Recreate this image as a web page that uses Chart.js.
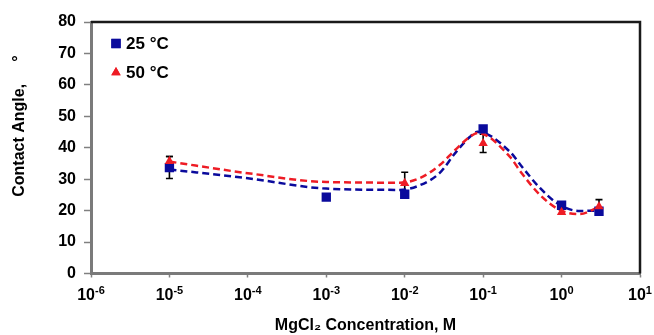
<!DOCTYPE html>
<html>
<head>
<meta charset="utf-8">
<script src="https://cdn.jsdelivr.net/npm/chart.js@4.4.1/dist/chart.umd.min.js"></script>
<style>
html, body { margin: 0; padding: 0; background: #fff; }
</style>
</head>
<body>
<canvas id="chart" width="654" height="335"></canvas>
<script>
// Measured points (MgCl2 concentration in M, contact angle in degrees)
const conc25 = [1e-5, 1e-3, 1e-2, 1e-1, 1, 3];
const angle25 = [33.7, 24.3, 25.2, 46.0, 21.7, 19.8];
const err25 = [3.5, 0, 0, 0, 0, 0];

const conc50 = [1e-5, 1e-2, 1e-1, 1, 3];
const angle50 = [35.7, 28.7, 41.4, 19.5, 21.3];
const err50 = [1.5, 3.5, 2.9, 0, 2.2];

// Dashed trend curves
const fitConc = [1e-5, 1e-4, 1e-3, 8.7e-3, 1.57e-2, 2.8e-2, 4.4e-2, 6.8e-2, 8.5e-2, 0.22, 0.3, 0.53, 0.95, 1.7, 3];
const fit25 = [33.1, 30.3, 27.0, 26.6, 28.1, 32.0, 38.3, 43.5, 45.1, 38.7, 34.5, 27.2, 21.8, 19.9, 20.0];
const fit50 = [35.6, 31.9, 29.1, 28.9, 30.4, 34.5, 39.3, 43.5, 44.7, 37.1, 32.4, 25.0, 20.2, 18.9, 21.2];

const seriesNames = ['25 °C', '50 °C'];
const xTickValues = [1e-6, 1e-5, 1e-4, 1e-3, 1e-2, 1e-1, 1, 10];

const BLUE = '#0a0a9c';
const RED = '#ee1c25';
const FONT = 'Liberation Sans, Arial, sans-serif';

const pts = (xs, ys) => xs.map((x, i) => ({x: x, y: ys[i]}));

// error bars, drawn under the markers
const errorBars = {
    id: 'errorBars',
    beforeDatasetsDraw(chart) {
        const ctx = chart.ctx, xs = chart.scales.x, ys = chart.scales.y;
        ctx.save();
        ctx.strokeStyle = '#000';
        ctx.lineWidth = 1.6;
        [[conc25, angle25, err25], [conc50, angle50, err50]].forEach(([cx, cy, ce]) => {
            cx.forEach((c, i) => {
                if (!ce[i]) return;
                const px = xs.getPixelForValue(c);
                const top = ys.getPixelForValue(cy[i] + ce[i]);
                const bot = ys.getPixelForValue(cy[i] - ce[i]);
                ctx.beginPath();
                ctx.moveTo(px, top); ctx.lineTo(px, bot);
                ctx.moveTo(px - 3.5, top); ctx.lineTo(px + 3.5, top);
                ctx.moveTo(px - 3.5, bot); ctx.lineTo(px + 3.5, bot);
                ctx.stroke();
            });
        });
        ctx.restore();
    }
};

// top/right frame, power-of-ten labels, legend and y title
const decor = {
    id: 'decor',
    afterDraw(chart) {
        const ctx = chart.ctx, a = chart.chartArea, xs = chart.scales.x;
        ctx.save();
        ctx.strokeStyle = '#1a1a1a';
        ctx.lineWidth = 2.5;
        ctx.beginPath();
        ctx.moveTo(a.left, a.top);
        ctx.lineTo(a.right, a.top);
        ctx.lineTo(a.right, a.bottom);
        ctx.stroke();

        // x tick labels 10^n
        ctx.fillStyle = '#000';
        ctx.textBaseline = 'alphabetic';
        ctx.textAlign = 'left';
        xs.ticks.forEach(t => {
            const px = xs.getPixelForValue(t.value);
            const exp = String(Math.round(Math.log10(t.value)));
            ctx.font = 'bold 16px ' + FONT;
            const wb = ctx.measureText('10').width;
            ctx.font = 'bold 11px ' + FONT;
            const we = ctx.measureText(exp).width;
            const x0 = px - (wb + we) / 2;
            ctx.font = 'bold 16px ' + FONT;
            ctx.fillText('10', x0, 300);
            ctx.font = 'bold 11px ' + FONT;
            ctx.fillText(exp, x0 + wb, 294);
        });

        // legend
        const sets = [chart.data.datasets[2], chart.data.datasets[3]];
        ctx.font = 'bold 17px ' + FONT;
        ctx.textBaseline = 'middle';
        sets.forEach((ds, i) => {
            const y = 43.5 + i * 29;
            ctx.fillStyle = ds.backgroundColor;
            Chart.helpers.drawPoint(ctx, {pointStyle: ds.pointStyle, radius: ds.pointRadius, rotation: 0, borderWidth: 0}, 116, y);
            ctx.fill();
            ctx.fillStyle = '#000';
            ctx.fillText(ds.label, 126, y + 1);
        });

        // y axis title
        ctx.translate(19.5, 126);
        ctx.rotate(-Math.PI / 2);
        ctx.font = 'bold 16px ' + FONT;
        ctx.textAlign = 'center';
        ctx.fillText('Contact Angle,     \u00B0', 0, 0);
        ctx.restore();
    }
};

new Chart(document.getElementById('chart'), {
    type: 'scatter',
    data: {
        datasets: [
            {label: 'fit25', data: pts(fitConc, fit25), showLine: true, borderColor: BLUE, borderWidth: 2.5,
             borderDash: [7, 4], pointRadius: 0, cubicInterpolationMode: 'monotone', order: 4},
            {label: 'fit50', data: pts(fitConc, fit50), showLine: true, borderColor: RED, borderWidth: 2.5,
             borderDash: [7, 4], pointRadius: 0, cubicInterpolationMode: 'monotone', order: 3},
            {label: seriesNames[0], data: pts(conc25, angle25), pointStyle: 'rect', pointRadius: 6.6,
             backgroundColor: BLUE, borderColor: BLUE, borderWidth: 0, order: 2},
            {label: seriesNames[1], data: pts(conc50, angle50), pointStyle: 'triangle', pointRadius: 5.4,
             backgroundColor: RED, borderColor: RED, borderWidth: 0, order: 1}
        ]
    },
    options: {
        responsive: false,
        animation: false,
        layout: {padding: {top: 22, right: 14, left: 0, bottom: 0}},
        plugins: {legend: {display: false}, tooltip: {enabled: false}},
        scales: {
            x: {
                type: 'logarithmic',
                min: 1e-6,
                max: 10,
                afterBuildTicks: s => { s.ticks = xTickValues.map(v => ({value: v})); },
                afterFit: s => { s.height = 61.5; },
                ticks: {display: false, autoSkip: false, maxRotation: 0},
                grid: {drawOnChartArea: false, drawTicks: true, tickLength: 4, color: '#808080', tickWidth: 1.5},
                border: {display: true, color: '#7a7a7a', width: 3},
                title: {
                    display: true, text: 'MgCl\u2082 Concentration, M', color: '#000',
                    font: {family: FONT, size: 16, weight: 'bold'}, padding: {top: 0, bottom: 0}
                }
            },
            y: {
                min: 0,
                max: 80,
                afterFit: s => { s.width = 91; },
                ticks: {
                    stepSize: 10, padding: 8, color: '#000',
                    font: {family: FONT, size: 16, weight: 'bold'}
                },
                grid: {drawOnChartArea: false, drawTicks: true, tickLength: 7, color: '#808080', tickWidth: 1.5},
                border: {display: true, color: '#7a7a7a', width: 3}
            }
        }
    },
    plugins: [errorBars, decor]
});
</script>
</body>
</html>
